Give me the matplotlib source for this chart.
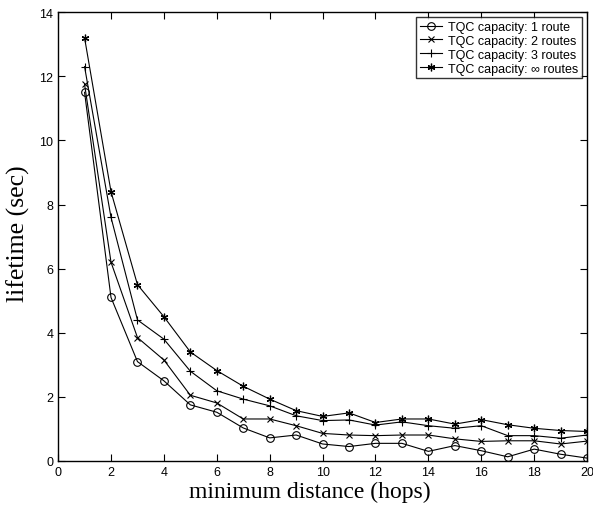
import matplotlib
matplotlib.use("Agg")
import matplotlib.pyplot as plt

hops = list(range(1, 21))
route1 = [11.5, 5.1, 3.1, 2.5, 1.75, 1.52, 1.03, 0.72, 0.81, 0.53,
          0.45, 0.55, 0.55, 0.3, 0.48, 0.32, 0.13, 0.37, 0.21, 0.09]
route2 = [11.75, 6.2, 3.85, 3.15, 2.05, 1.81, 1.31, 1.31, 1.1, 0.86,
          0.81, 0.79, 0.81, 0.81, 0.69, 0.61, 0.63, 0.63, 0.53, 0.62]
route3 = [12.3, 7.6, 4.4, 3.8, 2.8, 2.19, 1.93, 1.72, 1.41, 1.26,
          1.28, 1.12, 1.22, 1.1, 1.02, 1.1, 0.79, 0.79, 0.71, 0.81]
route_inf = [13.2, 8.4, 5.5, 4.5, 3.4, 2.82, 2.33, 1.93, 1.57, 1.39,
             1.5, 1.2, 1.31, 1.31, 1.15, 1.29, 1.13, 1.02, 0.95, 0.92]
labels = ["TQC capacity: 1 route", "TQC capacity: 2 routes",
          "TQC capacity: 3 routes", "TQC capacity: \u221e routes"]

sans = ["Liberation Sans", "DejaVu Sans"]
serif = ["Liberation Serif", "DejaVu Serif"]

fig = plt.figure(figsize=(5.93, 5.06), dpi=100)
ax = fig.add_axes([0.098, 0.087, 0.892, 0.887])

ax.plot(hops, route1, color="k", lw=0.8, marker="o", ms=5.5, mfc="none", mew=0.8, label=labels[0])
ax.plot(hops, route2, color="k", lw=0.8, marker="x", ms=4, mew=0.8, label=labels[1])
ax.plot(hops, route3, color="k", lw=0.8, marker="+", ms=6, mew=0.8, label=labels[2])
ax.plot(hops, route_inf, color="k", lw=0.8, marker=(6, 2, 0), ms=5.5, mew=0.9, label=labels[3])

ax.set_xlim(0, 20)
ax.set_ylim(0, 14)
ax.set_xticks(range(0, 21, 2))
ax.set_yticks(range(0, 15, 2))
ax.tick_params(direction="in", top=True, right=True, length=5, width=0.8, labelsize=9)
for lab in ax.get_xticklabels() + ax.get_yticklabels():
    lab.set_family(sans)
for s in ax.spines.values():
    s.set_linewidth(1.0)

ax.set_xlabel("minimum distance (hops)", family=serif, fontsize=17)
ax.set_ylabel("lifetime (sec)", family=serif, fontsize=18.5)
ax.xaxis.set_label_coords(0.475, -0.045)
ax.yaxis.set_label_coords(-0.053, 0.508)

leg = ax.legend(loc="upper right", prop={"family": sans, "size": 9}, frameon=True,
                fancybox=False, edgecolor="k", handlelength=1.75, borderpad=0.3,
                labelspacing=0.15, handletextpad=0.5, borderaxespad=0.4)
leg.get_frame().set_linewidth(1.0)

fig.savefig("out.png", dpi=100)
